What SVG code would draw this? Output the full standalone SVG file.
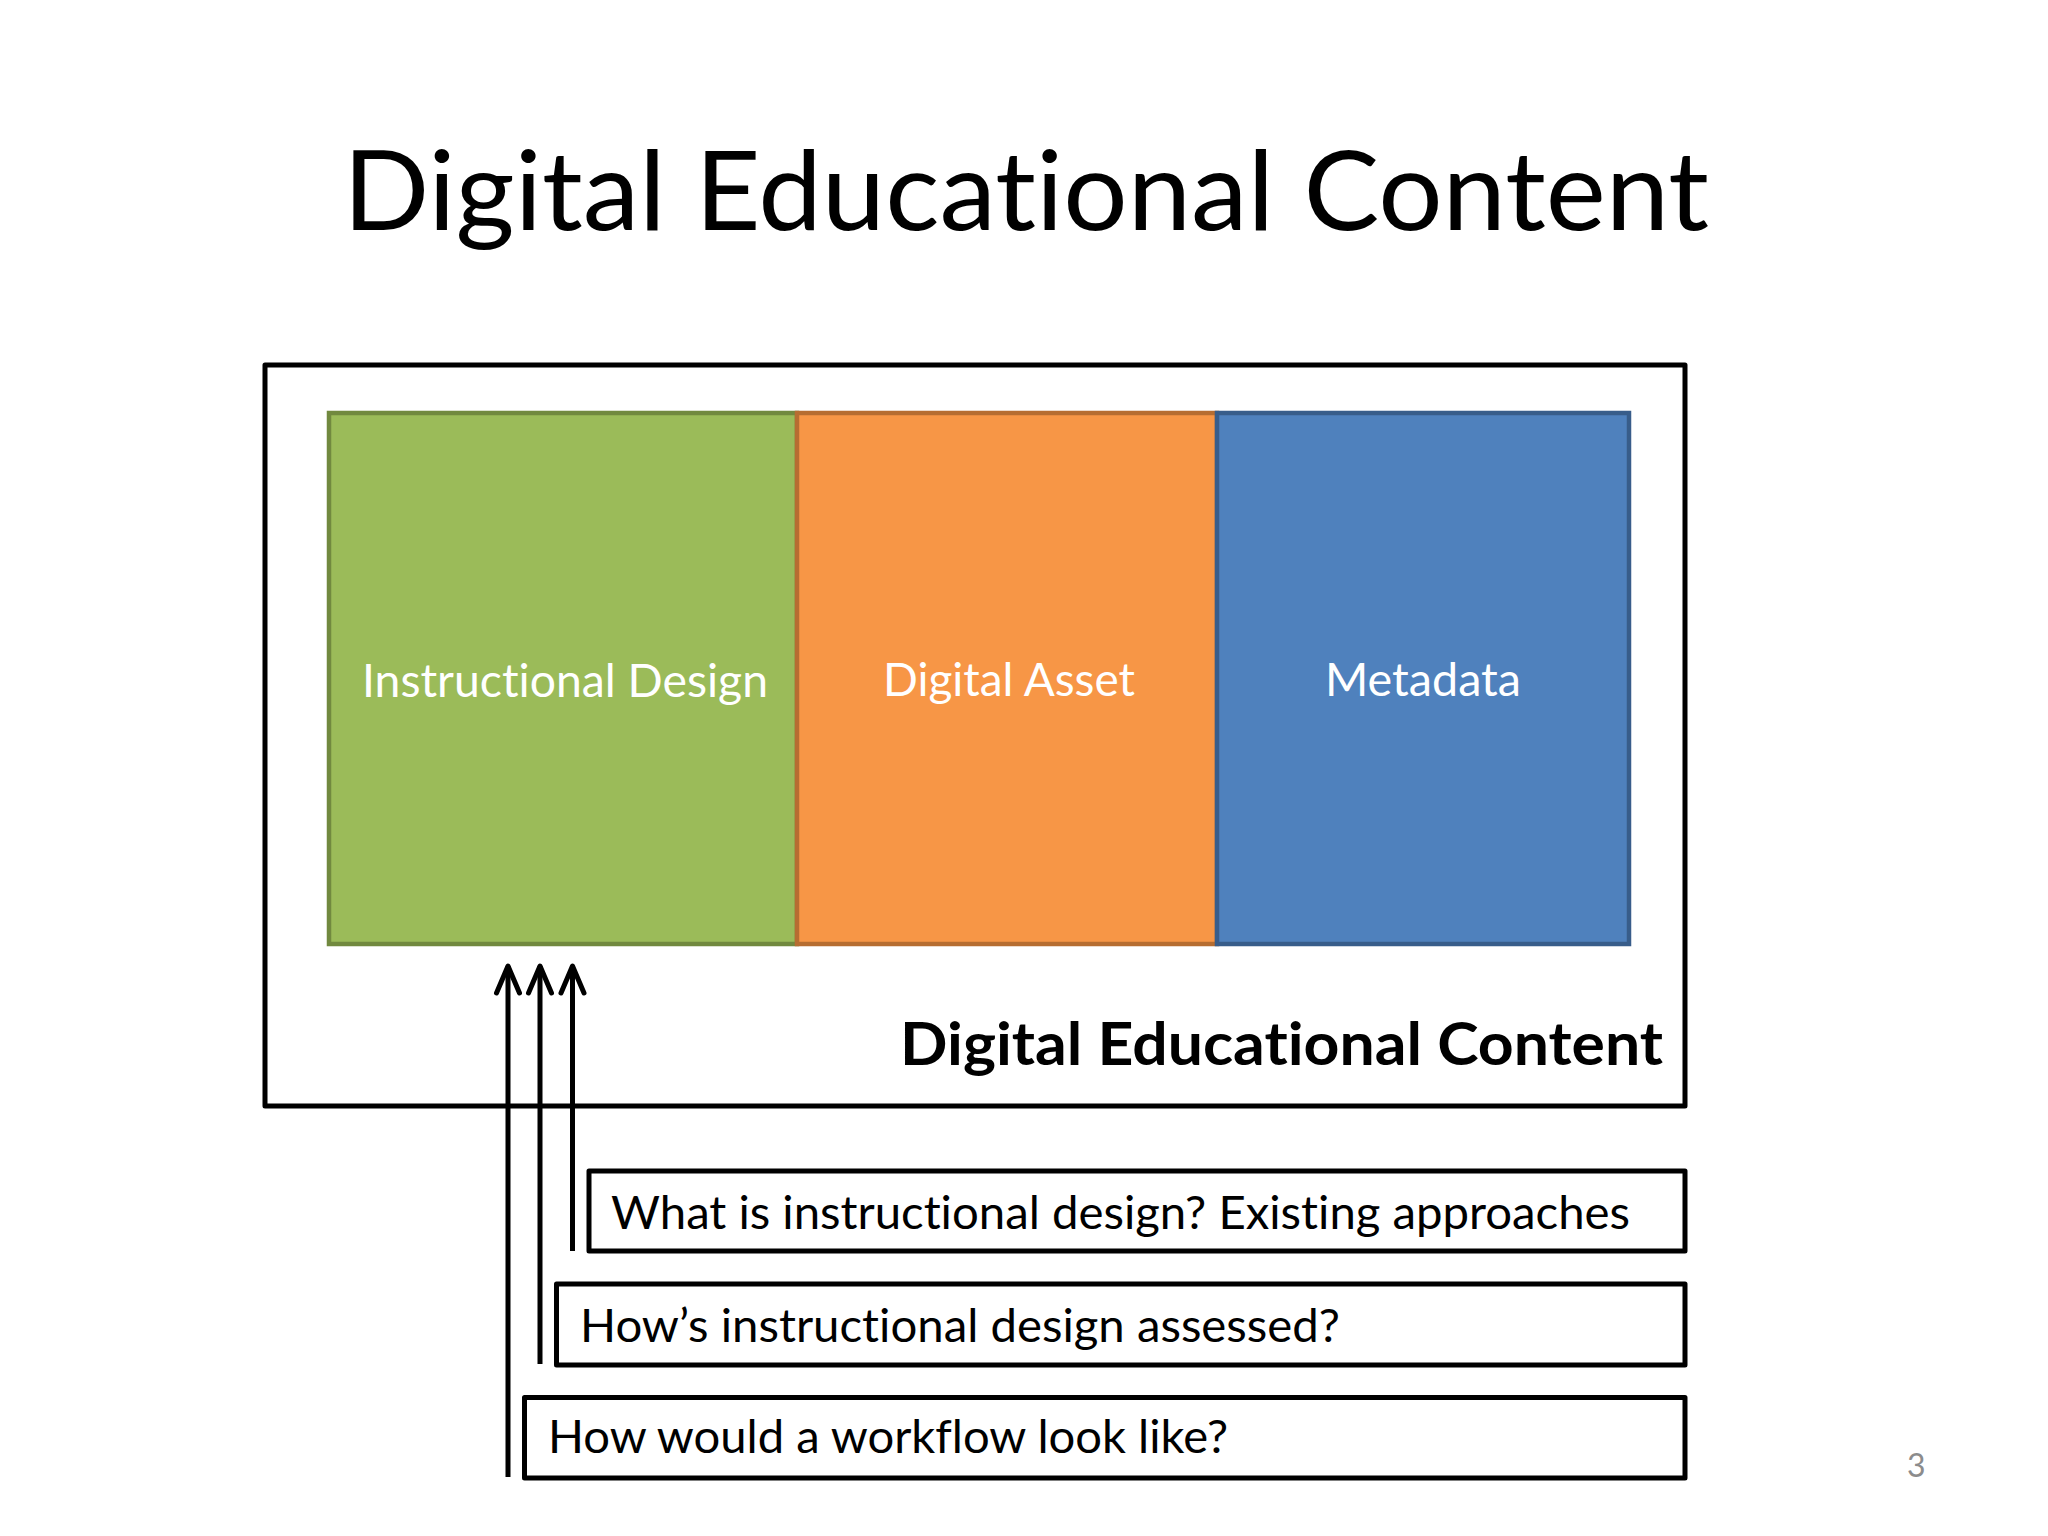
<svg xmlns="http://www.w3.org/2000/svg" width="2048" height="1536" viewBox="0 0 2048 1536">
  <defs>
    <style>
      text { font-family: Lato, "Open Sans", "Liberation Sans", sans-serif; font-variant-ligatures: none; font-feature-settings: "liga" 0, "clig" 0; }
      .title { font-size: 110px; fill: #000; }
      .lbl { font-size: 47px; fill: #ffffff; }
      .q { font-size: 46px; fill: #000; }
      .bold { font-size: 59px; font-weight: bold; fill: #000; }
      .frame { fill: none; stroke: #000; stroke-width: 5; stroke-linejoin: round; }
      .qbox { fill: #fff; stroke: #000; stroke-width: 5; stroke-linejoin: round; }
      .conn { stroke: #000; stroke-width: 5; fill: none; }
    </style>
    <marker id="open" viewBox="-40 -20 46 40" refX="0" refY="0" markerWidth="46" markerHeight="40" markerUnits="userSpaceOnUse" orient="auto">
      <path d="M -27,-11.5 L 0,0 L -27,11.5" fill="none" stroke="#000" stroke-width="5" stroke-linecap="round" stroke-linejoin="round"/>
    </marker>
  </defs>
  <rect width="2048" height="1536" fill="#ffffff"/>

  <text class="title" x="343" y="230" textLength="1366" lengthAdjust="spacingAndGlyphs">Digital Educational Content</text>

  <g id="content-frame">
    <rect class="frame" x="265" y="365" width="1420" height="741"/>
    <text class="bold" x="900" y="1065" textLength="763" lengthAdjust="spacingAndGlyphs">Digital Educational Content</text>
  </g>

  <g id="instructional-design">
    <rect x="329" y="413" width="468" height="531" fill="#9BBB59" stroke="#71893F" stroke-width="4.5"/>
    <text class="lbl" x="362" y="697" textLength="406" lengthAdjust="spacingAndGlyphs">Instructional Design</text>
  </g>
  <g id="digital-asset">
    <rect x="797" y="413" width="420" height="531" fill="#F79646" stroke="#B66D31" stroke-width="4.5"/>
    <text class="lbl" x="883" y="696" textLength="252" lengthAdjust="spacingAndGlyphs">Digital Asset</text>
  </g>
  <g id="metadata">
    <rect x="1217" y="413" width="412" height="531" fill="#4F81BD" stroke="#385D8A" stroke-width="4.5"/>
    <text class="lbl" x="1325" y="696" textLength="196" lengthAdjust="spacingAndGlyphs">Metadata</text>
  </g>

  <g id="q1">
    <rect class="qbox" x="589" y="1171" width="1096" height="80"/>
    <text class="q" x="611" y="1229" textLength="1019" lengthAdjust="spacingAndGlyphs">What is instructional design? Existing approaches</text>
  </g>
  <g id="q2">
    <rect class="qbox" x="556.5" y="1284" width="1128.5" height="81"/>
    <text class="q" x="580" y="1342" textLength="760" lengthAdjust="spacingAndGlyphs">How’s instructional design assessed?</text>
  </g>
  <g id="q3">
    <rect class="qbox" x="524.5" y="1397.5" width="1160.5" height="80.5"/>
    <text class="q" x="548" y="1453" textLength="680" lengthAdjust="spacingAndGlyphs">How would a workflow look like?</text>
  </g>

  <g id="connectors">
    <line class="conn" x1="508" y1="1477" x2="508" y2="966" marker-end="url(#open)"/>
    <line class="conn" x1="540" y1="1364" x2="540" y2="966" marker-end="url(#open)"/>
    <line class="conn" x1="572.5" y1="1251" x2="572.5" y2="966" marker-end="url(#open)"/>
  </g>

  <text x="1907" y="1477" font-size="32" fill="#8C8C8C" font-family="Lato, 'Open Sans', sans-serif">3</text>
</svg>
